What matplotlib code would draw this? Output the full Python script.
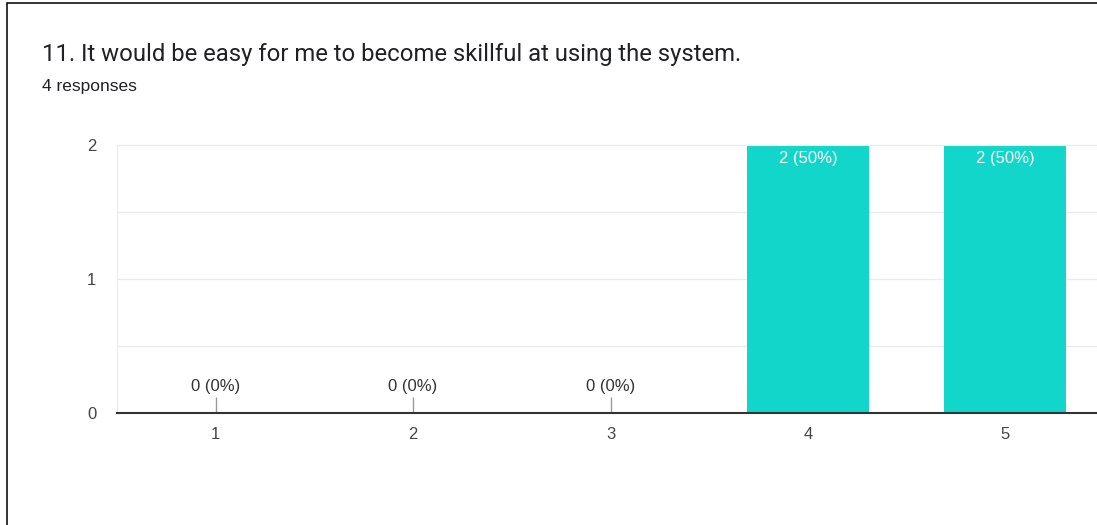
import matplotlib.pyplot as plt
from matplotlib.patches import Rectangle

# Responses per rating
ratings = ['1', '2', '3', '4', '5']
counts = [0, 0, 0, 2, 2]
total_responses = 4

title = '11. It would be easy for me to become skillful at using the system.'
subtitle = f'{total_responses} responses'

plt.rcParams['font.family'] = ['Liberation Sans', 'DejaVu Sans']

fig = plt.figure(figsize=(10.97, 5.25), dpi=100)
W, H = 1097, 525

# Card outline
fig.patches.append(Rectangle((7 / W, -0.1), 1.2, 0.1 + (H - 3) / H,
                             transform=fig.transFigure, fill=False,
                             edgecolor='#111111', linewidth=1.2))

fig.text(42 / W, 1 - 55 / H, title, fontsize=17.2, color='#202124',
         va='center', ha='left', family=['Roboto', 'DejaVu Sans'])
fig.text(42 / W, 1 - 87 / H, subtitle, fontsize=12.5, color='#202124',
         va='center', ha='left')

ax = fig.add_axes([117 / W, 112 / H, 987 / W, 268 / H])
x = list(range(1, len(ratings) + 1))

bars = ax.bar(x, counts, width=0.62, color='#13d6cb', zorder=2)

ax.set_xlim(0.5, 5.5)
ax.set_ylim(0, 2)
ax.set_yticks([0, 1, 2])
ax.set_yticks([0.5, 1.5], minor=True)
ax.grid(axis='y', which='both', color='#ebebeb', linewidth=1, zorder=0)
ax.set_xticks(x)
ax.set_xticklabels(ratings)
ax.tick_params(axis='both', length=0, labelsize=12, labelcolor='#444444')
ax.tick_params(axis='x', pad=10)
ax.tick_params(axis='y', pad=15)
ax.tick_params(axis='y', which='minor', length=0)

ax.spines['right'].set_visible(False)
ax.spines['left'].set_color('#ebebeb')
ax.spines['top'].set_color('#ebebeb')
ax.spines['bottom'].set_color('#333333')
ax.spines['bottom'].set_linewidth(1.5)
ax.spines['bottom'].set_zorder(3)

for xi, c in zip(x, counts):
    label = f'{c} ({c / total_responses:.0%})'
    if c == 0:
        ax.vlines(xi, 0, 0.12, color='#999999', linewidth=1, zorder=3)
        ax.text(xi, 0.2, label, ha='center', va='center', fontsize=12,
                color='#333333')
    else:
        ax.text(xi, c - 0.1, label, ha='center', va='center', fontsize=12,
                color='white')

fig.savefig('out.png', dpi=100)
